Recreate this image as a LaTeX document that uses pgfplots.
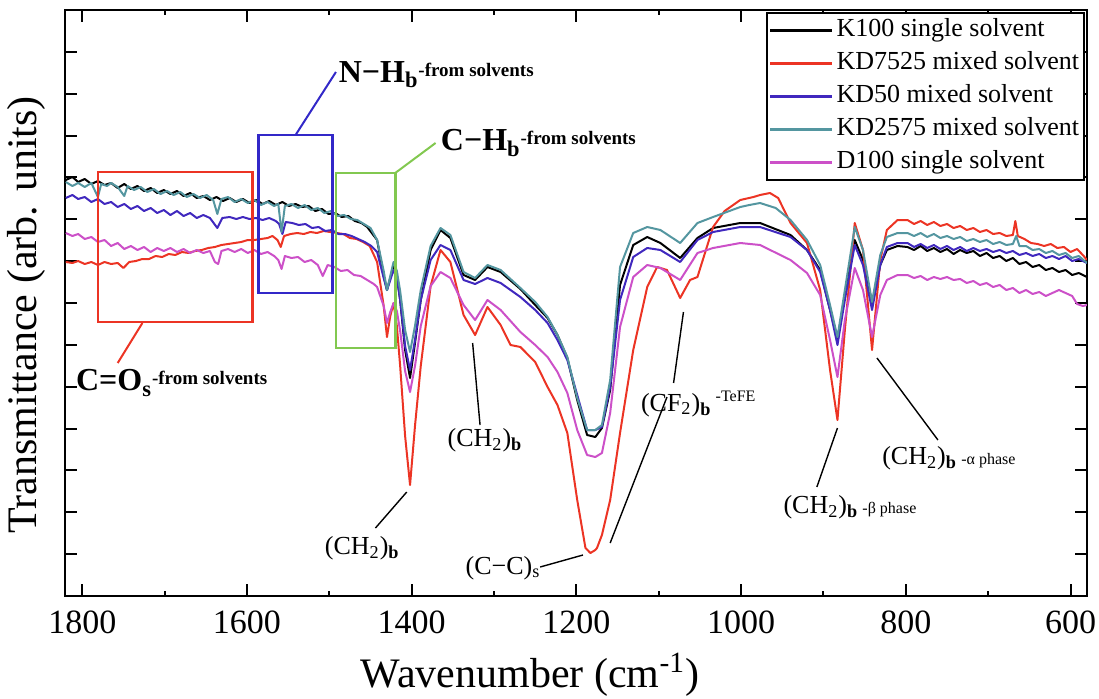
\documentclass[border=0pt]{standalone}
\usepackage{fontspec}
\setmainfont{Liberation Serif}
\usepackage{pgfplots}
\pgfplotsset{compat=1.18}
\definecolor{cred}{RGB}{236,52,36}
\definecolor{cblue}{RGB}{64,40,190}
\definecolor{cteal}{RGB}{84,150,160}
\definecolor{cpink}{RGB}{204,80,200}
\definecolor{cgreen}{RGB}{130,200,80}
\definecolor{rblue}{RGB}{50,40,200}
\begin{document}
\begin{tikzpicture}
\begin{axis}[
  scale only axis, width=511pt, height=293pt,
  x dir=reverse, xmin=580, xmax=1821, ymin=0, ymax=586,
  xtick={600,800,...,1800}, minor xtick={700,900,...,1700},
  ytick={0,41.857,...,590}, yticklabels={},
  tick align=inside, major tick length=6pt, minor tick length=2.5pt,
  every tick/.style={black, line width=1pt},
  axis line style={line width=1.3pt},
  /pgf/number format/assume math mode=true,
  /pgf/number format/1000 sep={},
  xticklabel style={font=\fontsize{17}{17}\selectfont, yshift=-4pt},
  xlabel={Wavenumber (cm\textsuperscript{-1})},
  ylabel={Transmittance (arb. units)},
  xlabel style={font=\fontsize{21}{21}\selectfont, at={(axis description cs:0.455,-0.135)}, anchor=center},
  ylabel style={font=\fontsize{21}{21}\selectfont, at={(axis description cs:-0.038,0.48)}, anchor=center},
  legend style={at={(1,1)}, anchor=north east, xshift=-1pt, yshift=-1pt, draw=black, line width=0.8pt,
    font=\fontsize{13}{13}\selectfont, inner sep=1pt, row sep=1pt,
    nodes={inner sep=1.5pt, text height=9.5pt, text depth=3pt}},
  legend cell align=left,
  legend image code/.code={\draw[#1,line width=1.2pt] (0pt,0pt)--(31pt,0pt);},
  every axis plot/.append style={line width=1pt, line join=round, no marks},
]
% K100
\addplot[black] coordinates {
(1820,416)(1812,419)(1805,414)(1797,417)(1789,412)(1781,415)(1773,411)(1765,413)(1757,408)(1749,412)(1741,407)(1733,410)(1725,405)(1717,408)(1709,403)(1701,406)(1693,402)(1685,405)(1677,400)(1669,403)(1661,398)(1653,400)(1645,396)(1637,399)(1629,395)(1621,398)(1613,394)(1605,397)(1597,393)(1589,396)(1581,392)(1573,395)(1565,391)(1557,394)(1549,390)(1541,392)(1533,389)(1525,390)(1517,385)(1509,387)(1501,382)(1493,383)(1485,379)(1477,380)(1469,375)(1461,373)(1454,369)
(1442,356)(1434,320)(1430,306)(1426,318)(1422,331)(1418,320)(1414,296)(1408,246)(1402,218)(1396,253)(1389,296)(1377,346)(1365,366)
(1353,358)(1337,321)(1323,316)(1308,329)(1292,324)(1268,307)(1250,291)(1235,278)(1223,261)(1211,238)(1199,196)(1187,161)(1177,159)(1169,168)(1159,206)(1147,311)(1131,351)(1114,359)(1098,353)(1074,338)(1053,358)(1034,368)(1001,373)(977,373)(940,361)(920,346)(904,326)(892,286)(883,256)(874,301)(862,356)(852,336)(841,293)(831,331)(823,346)
(810,350)(798,349)(790,346)(782,350)(774,345)(766,348)(758,344)(750,347)(742,342)(734,346)(726,343)(718,345)(710,340)(702,343)(694,338)(686,340)(678,335)(670,338)(662,332)(654,334)(646,329)(638,331)(630,326)(622,328)(614,324)(606,326)(598,321)(590,323)(580,319)
};
\addlegendentry{K100 single solvent}
% KD7525
\addplot[cred] coordinates {
(1820,334)(1812,333)(1805,335)(1797,332)(1789,334)(1781,331)(1773,334)(1765,332)(1757,333)(1750,328)(1743,334)(1735,335)(1727,337)(1719,337)(1711,340)(1703,339)(1695,342)(1687,341)(1679,344)(1671,343)(1663,345)(1655,346)(1647,348)(1639,349)(1631,351)(1623,352)(1615,353)(1607,354)(1599,356)(1591,356)(1583,357)(1575,358)(1569,360)(1563,356)(1559,349)(1555,360)(1547,362)(1539,363)(1531,362)(1523,364)(1515,363)(1507,365)(1499,364)(1491,363)(1483,362)(1475,358)(1467,357)(1459,354)(1451,350)
(1442,334)(1434,290)(1430,259)(1426,280)(1422,293)(1418,270)(1414,230)(1408,160)(1402,111)(1396,170)(1389,230)(1377,310)(1365,346)
(1353,334)(1337,281)(1323,261)(1308,289)(1292,271)(1280,251)(1268,249)(1250,234)(1235,209)(1223,191)(1211,163)(1199,96)(1189,48)(1183,43)(1177,46)(1175,48)(1169,61)(1159,96)(1147,163)(1131,246)(1114,309)(1102,329)(1090,326)(1074,298)(1062,316)(1053,319)(1034,369)(1020,385)(1001,396)(985,399)(977,401)(965,403)(955,398)(940,373)(920,353)(904,306)(892,226)(883,176)(874,266)(862,373)(852,346)(841,246)(831,336)(823,366)
(810,376)(798,376)(790,372)(782,375)(774,371)(766,374)(758,370)(750,372)(742,368)(734,370)(726,366)(718,368)(710,364)(702,366)(694,362)(686,363)(678,360)(670,361)(667,375)(664,360)(656,357)(648,353)(640,352)(632,350)(624,352)(616,348)(608,349)(600,344)(592,347)(584,340)(580,336)
};
\addlegendentry{KD7525 mixed solvent}
% KD50
\addplot[cblue] coordinates {
(1820,398)(1812,401)(1805,397)(1797,399)(1789,394)(1781,397)(1773,392)(1765,394)(1757,389)(1749,392)(1741,387)(1733,390)(1725,385)(1717,388)(1709,383)(1701,386)(1693,381)(1685,385)(1677,380)(1669,383)(1661,378)(1653,381)(1645,378)(1636,368)(1630,378)(1621,379)(1613,377)(1605,379)(1597,377)(1589,378)(1581,376)(1573,378)(1565,375)(1561,372)(1557,362)(1553,374)(1545,373)(1537,371)(1529,372)(1521,368)(1513,369)(1505,365)(1497,366)(1489,362)(1481,362)(1473,360)(1465,357)(1457,354)(1449,350)
(1442,344)(1434,318)(1430,306)(1426,316)(1422,326)(1418,318)(1414,296)(1408,250)(1402,226)(1396,256)(1389,296)(1377,336)(1365,351)
(1353,346)(1337,316)(1323,312)(1308,318)(1292,313)(1268,299)(1250,286)(1235,273)(1223,256)(1211,236)(1199,201)(1187,166)(1177,166)(1169,169)(1159,209)(1147,296)(1131,339)(1114,348)(1098,346)(1074,334)(1053,356)(1034,364)(1001,369)(977,369)(940,359)(920,346)(904,324)(892,286)(883,251)(874,296)(862,351)(852,331)(841,286)(831,331)(823,349)
(810,353)(798,353)(790,349)(782,352)(774,348)(766,351)(758,347)(750,350)(742,346)(734,349)(726,345)(718,348)(710,345)(702,347)(694,344)(686,346)(678,343)(670,345)(662,341)(654,343)(646,340)(638,342)(630,338)(622,340)(614,337)(606,340)(598,335)(590,337)(580,333)
};
\addlegendentry{KD50 mixed solvent}
% KD2575
\addplot[cteal] coordinates {
(1820,414)(1812,410)(1805,413)(1797,409)(1789,413)(1781,399)(1777,412)(1770,410)(1765,413)(1757,409)(1749,400)(1745,410)(1737,406)(1729,409)(1721,404)(1713,407)(1705,402)(1697,405)(1689,401)(1681,404)(1673,399)(1665,402)(1657,398)(1649,401)(1641,396)(1636,382)(1631,397)(1623,399)(1615,394)(1607,397)(1599,393)(1591,396)(1583,391)(1575,394)(1567,390)(1562,392)(1558,364)(1554,390)(1546,392)(1538,388)(1530,391)(1522,386)(1514,388)(1506,383)(1498,385)(1490,380)(1482,381)(1474,377)(1466,376)(1458,372)(1450,368)
(1442,356)(1434,325)(1430,306)(1426,320)(1422,334)(1418,325)(1414,305)(1408,266)(1402,244)(1396,270)(1389,306)(1377,350)(1365,368)
(1353,361)(1337,324)(1323,318)(1308,331)(1292,326)(1268,308)(1250,294)(1235,279)(1223,261)(1211,239)(1199,198)(1187,166)(1177,166)(1169,171)(1159,216)(1147,329)(1131,363)(1114,369)(1098,366)(1074,353)(1053,373)(1034,379)(1001,389)(990,391)(977,393)(958,388)(940,376)(920,356)(904,331)(892,291)(883,259)(874,306)(862,369)(852,346)(841,294)(831,341)(823,359)
(810,363)(798,363)(790,360)(782,363)(774,359)(766,362)(758,358)(750,360)(742,357)(734,359)(726,355)(718,357)(710,354)(702,356)(694,352)(686,354)(678,351)(670,352)(666,360)(662,350)(654,350)(646,346)(638,347)(630,343)(622,345)(614,341)(606,343)(598,338)(590,340)(580,333)
};
\addlegendentry{KD2575 mixed solvent}
% D100
\addplot[cpink] coordinates {
(1820,363)(1812,360)(1805,362)(1797,357)(1789,359)(1781,354)(1773,356)(1765,350)(1757,353)(1749,347)(1741,350)(1733,346)(1725,349)(1717,344)(1709,348)(1701,345)(1693,348)(1685,344)(1677,347)(1669,343)(1661,346)(1653,343)(1645,345)(1639,334)(1635,332)(1631,345)(1623,347)(1615,344)(1607,347)(1599,343)(1591,346)(1583,342)(1575,344)(1567,340)(1562,336)(1558,327)(1554,340)(1546,338)(1538,339)(1530,334)(1522,336)(1514,331)(1508,320)(1502,331)(1494,329)(1486,325)(1478,326)(1470,321)(1462,320)(1454,316)(1446,312)
(1442,309)(1434,290)(1430,273)(1426,284)(1422,293)(1418,285)(1414,265)(1408,225)(1402,204)(1396,230)(1389,270)(1377,310)(1365,324)
(1353,318)(1337,291)(1323,276)(1308,296)(1292,286)(1268,264)(1250,251)(1235,239)(1223,224)(1211,203)(1199,166)(1187,141)(1177,139)(1169,143)(1159,183)(1147,269)(1131,319)(1114,331)(1098,328)(1074,316)(1053,343)(1034,348)(1001,353)(977,351)(940,336)(920,323)(904,301)(892,256)(883,219)(874,276)(862,328)(852,306)(841,259)(831,301)(823,316)
(810,321)(798,321)(790,318)(782,320)(774,316)(766,319)(758,317)(750,319)(742,316)(734,317)(726,313)(718,315)(710,311)(702,313)(694,309)(686,311)(678,306)(670,308)(662,303)(654,306)(646,302)(638,304)(630,300)(622,303)(614,306)(606,303)(598,300)(592,292)(585,290)(580,291)
};
\addlegendentry{D100 single solvent}

% annotation boxes
\draw[cred, line width=1.3pt] (axis cs:1781,274) rectangle (axis cs:1593,424);
\draw[cred, line width=1pt] (axis cs:1727,273) -- (axis cs:1757,233);
\node[anchor=west, inner sep=0pt] at (axis cs:1808,213) {\fontsize{16}{16}\selectfont\bfseries C=O\textsubscript{s}\raisebox{0.2em}{\fontsize{9.5}{9.5}\selectfont -from solvents}};

\draw[rblue, line width=1.3pt] (axis cs:1586,303) rectangle (axis cs:1496,461);
\draw[rblue, line width=1pt] (axis cs:1541,461) -- (axis cs:1492,524);
\node[anchor=west, inner sep=0pt] at (axis cs:1489,521) {\fontsize{16}{16}\selectfont\bfseries N−H\textsubscript{b}\raisebox{0.2em}{\fontsize{9.5}{9.5}\selectfont -from solvents}};

\draw[cgreen, line width=1.3pt] (axis cs:1492,248) rectangle (axis cs:1420,423);
\draw[cgreen, line width=1pt] (axis cs:1420,423) -- (axis cs:1371,453);
\node[anchor=west, inner sep=0pt] at (axis cs:1365,453) {\fontsize{16}{16}\selectfont\bfseries C−H\textsubscript{b}\raisebox{0.2em}{\fontsize{9.5}{9.5}\selectfont -from solvents}};

% peak labels
\draw[black, line width=0.7pt] (axis cs:1406,104) -- (axis cs:1444,68);
\node[inner sep=0pt] at (axis cs:1460,48) {\fontsize{13}{13}\selectfont (CH\textsubscript{2})\textsubscript{\textbf{b}}};

\draw[black, line width=0.7pt] (axis cs:1326,253) -- (axis cs:1317,171);
\node[inner sep=0pt] at (axis cs:1311,156) {\fontsize{13}{13}\selectfont (CH\textsubscript{2})\textsubscript{\textbf{b}}};

\draw[black, line width=0.7pt] (axis cs:1244,29) -- (axis cs:1192,41);
\node[inner sep=0pt] at (axis cs:1289,28) {\fontsize{13}{13}\selectfont (C−C)\textsubscript{s}};

\draw[black, line width=0.7pt] (axis cs:1159,53) -- (axis cs:1090,199);
\draw[black, line width=0.7pt] (axis cs:1070,284) -- (axis cs:1082,213);
\node[anchor=west, inner sep=0pt] at (axis cs:1122,192) {\fontsize{13}{13}\selectfont (CF\textsubscript{2})\textsubscript{\textbf{b}}\,\raisebox{0.35em}{\fontsize{8}{8}\selectfont -TeFE}};

\draw[black, line width=0.7pt] (axis cs:883,168) -- (axis cs:908,109);
\node[anchor=west, inner sep=0pt] at (axis cs:949,89) {\fontsize{13}{13}\selectfont (CH\textsubscript{2})\textsubscript{\textbf{b}}\,{\fontsize{8}{8}\selectfont -β phase}};

\draw[black, line width=0.7pt] (axis cs:835,238) -- (axis cs:761,156);
\node[anchor=west, inner sep=0pt] at (axis cs:829,138) {\fontsize{13}{13}\selectfont (CH\textsubscript{2})\textsubscript{\textbf{b}}\,{\fontsize{8}{8}\selectfont -α phase}};
\end{axis}
\pgfresetboundingbox
\path[use as bounding box] ([xshift=-32.5pt,yshift=-51pt]current axis.south west) rectangle ([xshift=6pt,yshift=5pt]current axis.north east);
\end{tikzpicture}
\end{document}
